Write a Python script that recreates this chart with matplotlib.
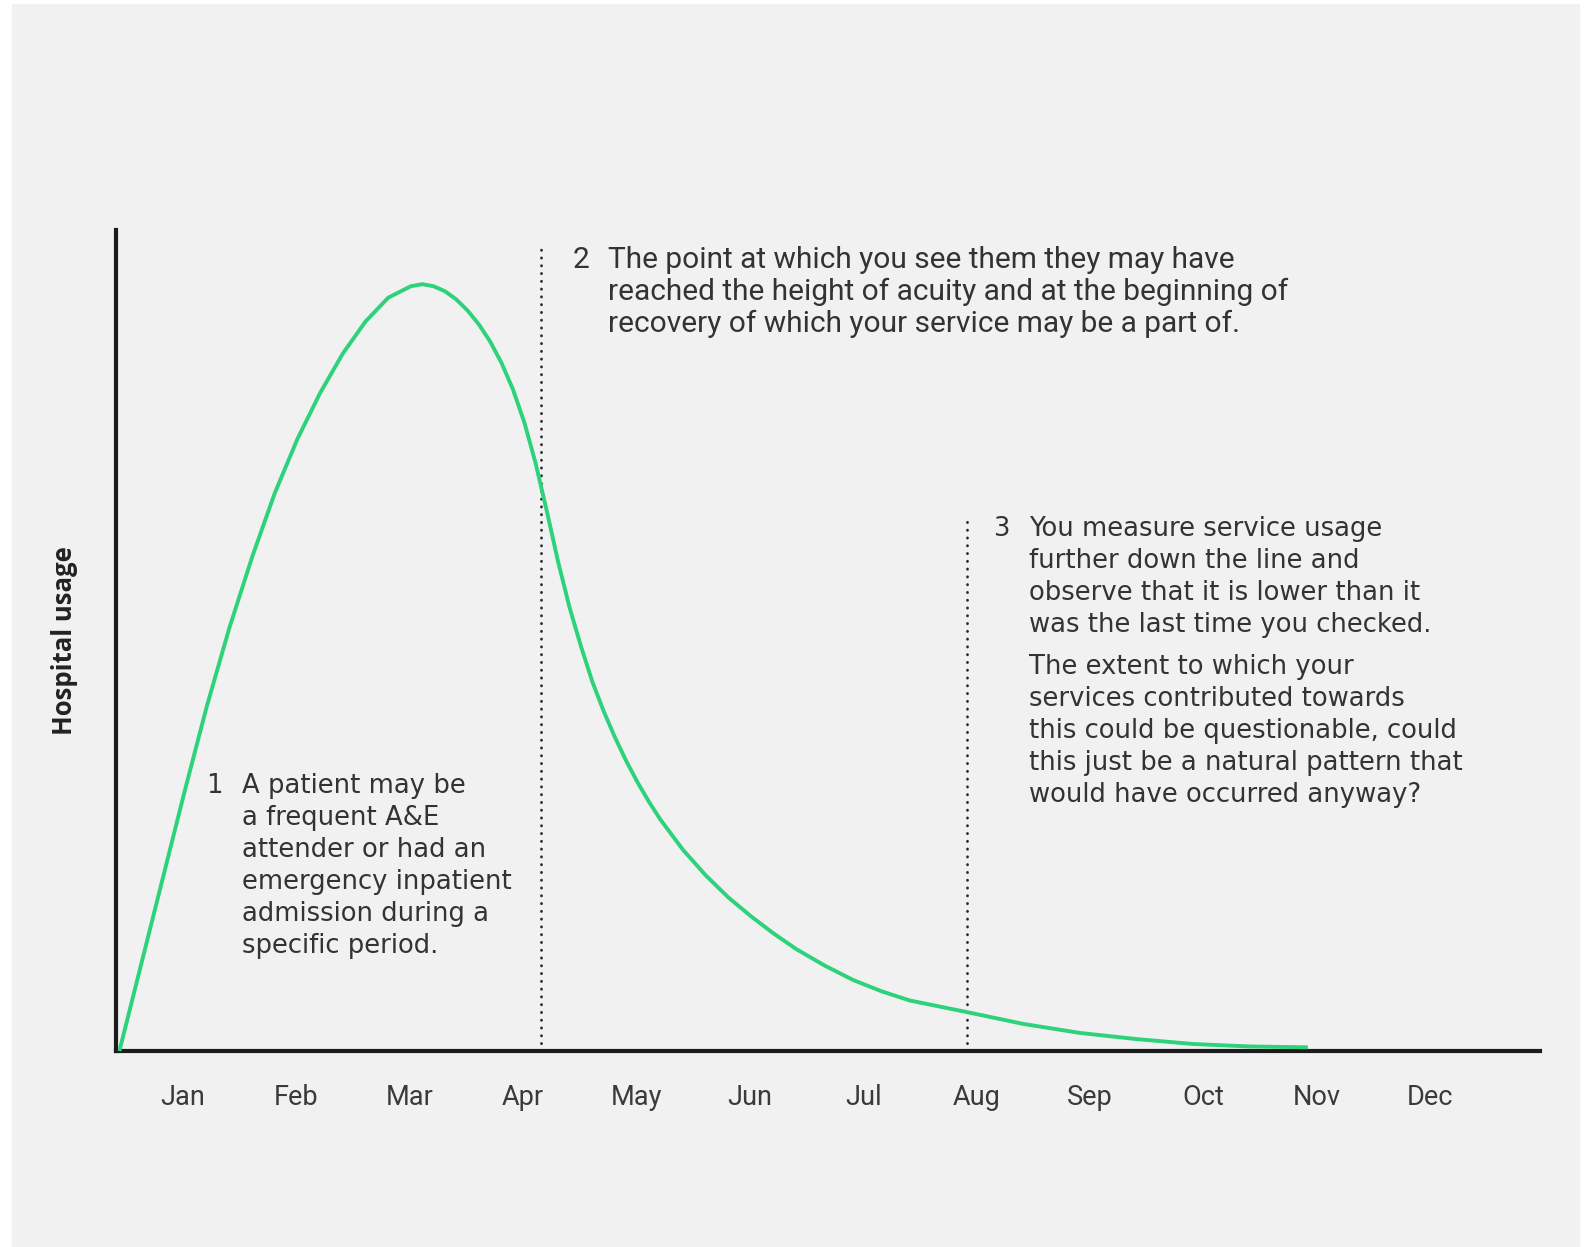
import matplotlib.pyplot as plt
from matplotlib.patches import Rectangle

# picture size in pixels
W, H = 1588, 1247

months = ["Jan", "Feb", "Mar", "Apr", "May", "Jun",
          "Jul", "Aug", "Sep", "Oct", "Nov", "Dec"]
month_pos = [0.59 + i for i in range(12)]

# curve (x in months from the origin, y in % of axis height)
curve_x = [0.03, 0.2, 0.4, 0.6, 0.8, 1.0, 1.2, 1.4, 1.6, 1.8,
           2.0, 2.2, 2.4, 2.6, 2.7, 2.8, 2.9, 3.0, 3.1, 3.2,
           3.3, 3.4, 3.5, 3.6, 3.7, 3.8, 3.9, 4.0, 4.1, 4.2,
           4.3, 4.4, 4.5, 4.6, 4.7, 4.8, 5.0, 5.2, 5.4, 5.6,
           5.8, 6.0, 6.25, 6.5, 6.75, 7.0, 7.5, 8.0, 8.5, 9.0,
           9.5, 10.0, 10.51]
curve_y = [0.0, 9.35, 20.35, 31.35, 41.95, 51.55, 60.15, 67.95, 74.55, 80.15,
           84.95, 88.85, 91.75, 93.15, 93.4, 93.15, 92.55, 91.55, 90.2, 88.5,
           86.4, 83.8, 80.6, 76.6, 71.6, 65.7, 59.5, 54.0, 49.3, 45.0,
           41.4, 38.2, 35.3, 32.7, 30.35, 28.2, 24.5, 21.4, 18.7, 16.4,
           14.3, 12.4, 10.4, 8.65, 7.275, 6.15, 4.75, 3.3, 2.2, 1.45,
           0.85, 0.55, 0.45]

# dotted markers: position and height
marker_x = [3.745, 7.504]
marker_top = [98.2, 65.3]

note1 = ["A patient may be", "a frequent A&E", "attender or had an",
         "emergency inpatient", "admission during a", "specific period."]
note2 = ["The point at which you see them they may have",
         "reached the height of acuity and at the beginning of",
         "recovery of which your service may be a part of."]
note3a = ["You measure service usage", "further down the line and",
          "observe that it is lower than it", "was the last time you checked."]
note3b = ["The extent to which your", "services contributed towards",
          "this could be questionable, could", "this just be a natural pattern that",
          "would have occurred anyway?"]


def fx(px):
    return px / W


def fy(py):
    return 1 - py / H


fig = plt.figure(figsize=(W / 100, H / 100), dpi=100)
fig.patch.set_facecolor("white")
fig.add_artist(Rectangle((fx(12), 0), fx(1579 - 12), (H - 4) / H,
                         transform=fig.transFigure, color="#f1f1f1", zorder=0))

ax = fig.add_axes([fx(116), fy(1051), fx(1540 - 116), (1051 - 230) / H])
ax.set_facecolor("none")
ax.set_xlim(0, 12.557)
ax.set_ylim(0, 100)
for side in ["top", "right"]:
    ax.spines[side].set_visible(False)
for side in ["left", "bottom"]:
    ax.spines[side].set_linewidth(3)
    ax.spines[side].set_color("#1c1c1c")
ax.set_yticks([])
ax.set_xticks(month_pos)
ax.set_xticklabels(months, fontsize=19.5, family="Roboto", color="#3a3a3a")
ax.tick_params(axis="x", length=0, pad=24)

ax.plot(curve_x, curve_y, color="#2dd27a", lw=2.8, solid_capstyle="butt",
        solid_joinstyle="round", clip_on=False, zorder=3)

for x, top in zip(marker_x, marker_top):
    ax.plot([x, x], [0, top], color="#2a2a2a", lw=2,
            linestyle=(0, (0.1, 2.7)), dash_capstyle="round", zorder=2)

fig.text(fx(64), fy(641), "Hospital usage", rotation=90, fontsize=18.5,
         fontweight="bold", family="Open Sans", color="#222222",
         ha="center", va="center")

txt = dict(fontsize=18.6, family="DejaVu Sans", color="#333333", va="center", ha="left")
txt2 = dict(fontsize=21.5, family="Roboto", color="#333333", va="center", ha="left")
pitch = 32

fig.text(fx(206), fy(786), "1", **txt)
for i, line in enumerate(note1):
    fig.text(fx(242), fy(786 + i * pitch), line, **txt)

fig.text(fx(573), fy(260), "2", **txt2)
for i, line in enumerate(note2):
    fig.text(fx(608), fy(260 + i * pitch), line, **txt2)

fig.text(fx(993), fy(529), "3", **txt)
for i, line in enumerate(note3a):
    fig.text(fx(1029), fy(529 + i * pitch), line, **txt)
for i, line in enumerate(note3b):
    fig.text(fx(1029), fy(667 + i * pitch), line, **txt)

fig.savefig("out.png", dpi=100)
